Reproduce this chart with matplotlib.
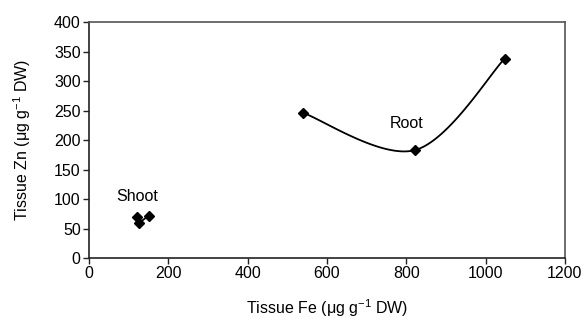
import numpy as np
import matplotlib
matplotlib.use("Agg")
import matplotlib.pyplot as plt

plt.rcParams['font.family'] = ['Liberation Sans', 'DejaVu Sans']
plt.rcParams['mathtext.fontset'] = 'custom'
plt.rcParams['mathtext.rm'] = 'Liberation Sans'
plt.rcParams['mathtext.default'] = 'regular'

# data
root_fe = [540, 822, 1048]
root_zn = [246, 183, 338]
shoot_fe = [120, 125, 150]
shoot_zn = [69, 60, 72]

xticks = [0, 200, 400, 600, 800, 1000, 1200]
yticks = [0, 50, 100, 150, 200, 250, 300, 350, 400]


def smooth(x, y, n=40):
    """Excel-style smoothed line: cubic bezier between points"""
    x = np.asarray(x, float)
    y = np.asarray(y, float)
    px, py = [], []
    k = len(x)
    for i in range(k - 1):
        x0, y0 = (x[i - 1], y[i - 1]) if i > 0 else (x[i], y[i])
        x3, y3 = (x[i + 2], y[i + 2]) if i + 2 < k else (x[i + 1], y[i + 1])
        c1x = x[i] + (x[i + 1] - x0) / 6
        c1y = y[i] + (y[i + 1] - y0) / 6
        c2x = x[i + 1] - (x3 - x[i]) / 6
        c2y = y[i + 1] - (y3 - y[i]) / 6
        t = np.linspace(0, 1, n)
        bx = (1-t)**3*x[i] + 3*(1-t)**2*t*c1x + 3*(1-t)*t**2*c2x + t**3*x[i+1]
        by = (1-t)**3*y[i] + 3*(1-t)**2*t*c1y + 3*(1-t)*t**2*c2y + t**3*y[i+1]
        px.extend(bx)
        py.extend(by)
    return px, py


fig = plt.figure(figsize=(5.86, 3.25), dpi=100)
ax = fig.add_axes([0.152, 0.206, 0.812, 0.726])

for fe, zn in [(root_fe, root_zn), (shoot_fe, shoot_zn)]:
    sx, sy = smooth(fe, zn)
    ax.plot(sx, sy, color='black', lw=1.3)
    ax.plot(fe, zn, 'D', color='black', ms=5.5)

fs = 11.5
ax.text(800, 228, 'Root', ha='center', va='center', fontsize=fs)
ax.text(122, 104, 'Shoot', ha='center', va='center', fontsize=fs)

ax.set_xlim(0, 1200)
ax.set_ylim(0, 400)
ax.set_xticks(xticks)
ax.set_yticks(yticks)
ax.tick_params(labelsize=fs, length=4, width=1, direction='out', color='#222222', pad=2)
for side in ['left', 'bottom']:
    ax.spines[side].set_color('#222222')
    ax.spines[side].set_linewidth(1.2)
for side in ['top', 'right']:
    ax.spines[side].set_color('#555555')
    ax.spines[side].set_linewidth(1.2)

ax.set_xlabel('Tissue Fe (\u03bcg g$^{-1}$ DW)', fontsize=fs, va='center')
ax.set_ylabel('Tissue Zn (\u03bcg g$^{-1}$ DW)', fontsize=fs, va='center')
ax.xaxis.set_label_coords(0.5, -0.212)
ax.yaxis.set_label_coords(-0.141, 0.5)

fig.savefig('out.png', dpi=100)
